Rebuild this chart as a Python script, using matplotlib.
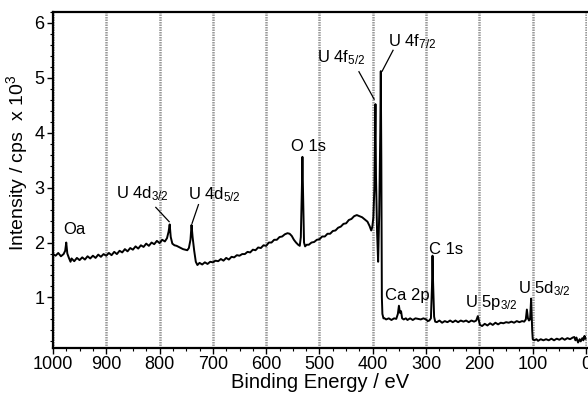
import matplotlib
matplotlib.use("Agg")
import matplotlib.pyplot as plt
from matplotlib.ticker import MultipleLocator

plt.rcParams['font.family'] = ['Liberation Sans', 'DejaVu Sans']
plt.rcParams['mathtext.fontset'] = 'custom'
plt.rcParams['mathtext.rm'] = 'Liberation Sans'
plt.rcParams['mathtext.it'] = 'Liberation Sans:italic'

# XPS survey spectrum, binding energy (eV) vs intensity (cps x 10^3)
binding_energy = [
    1000, 995, 990, 985, 980, 977, 975, 973, 970, 967, 965, 960, 955, 950, 945,
    940, 935, 930, 925, 920, 915, 910, 905, 900, 895, 890, 885, 880, 875, 870,
    865, 860, 855, 850, 845, 840, 835, 830, 825, 820, 815, 810, 805, 800, 795,
    790, 786, 783, 781, 779, 776, 772, 768, 764, 760, 756, 752, 748, 745, 742,
    740, 738, 735, 732, 729, 725, 720, 715, 710, 705, 700, 695, 690, 685, 680,
    675, 670, 665, 660, 655, 650, 645, 640, 635, 630, 625, 620, 615, 610, 605,
    600, 595, 590, 585, 580, 575, 570, 565, 560, 556, 552, 548, 544, 540, 537,
    535, 533, 532, 531, 529, 527, 524, 520, 515, 510, 505, 500, 495, 490, 485,
    480, 475, 470, 465, 460, 455, 450, 445, 440, 435, 430, 425, 420, 415, 410,
    406, 403, 401, 399, 397, 395, 394, 392, 390, 388, 386, 385, 384, 383, 382,
    380, 378, 375, 370, 365, 360, 356, 353, 351, 349, 347, 345, 342, 338, 335,
    330, 325, 320, 315, 310, 305, 300, 297, 294, 291, 289, 288, 287, 285, 283,
    280, 275, 270, 265, 260, 255, 250, 245, 240, 235, 230, 225, 220, 215, 210,
    206, 203, 201, 199, 195, 190, 185, 180, 175, 170, 165, 160, 155, 150, 145,
    140, 135, 130, 125, 120, 116, 113, 111, 109, 107, 105, 104, 103, 102, 101,
    100, 97, 93, 90, 85, 80, 75, 70, 65, 60, 55, 50, 45, 40, 35,
    30, 25, 22, 20, 18, 15, 12, 10, 7, 5, 3, 1,
]
intensity = [
    1.79, 1.76, 1.81, 1.75, 1.79, 1.85, 2.00, 1.80, 1.72, 1.65, 1.71, 1.66, 1.72, 1.68, 1.73,
    1.69, 1.75, 1.71, 1.76, 1.72, 1.78, 1.74, 1.79, 1.76, 1.81, 1.77, 1.83, 1.79, 1.85, 1.82,
    1.88, 1.84, 1.90, 1.87, 1.93, 1.89, 1.95, 1.92, 1.98, 1.94, 2.00, 1.97, 2.03, 1.99, 2.05,
    2.02, 2.08, 2.20, 2.33, 2.10, 1.98, 1.95, 1.94, 1.92, 1.90, 1.88, 1.87, 1.86, 1.90, 2.05,
    2.32, 2.10, 1.85, 1.65, 1.59, 1.63, 1.60, 1.64, 1.61, 1.65, 1.64, 1.67, 1.66, 1.70, 1.67,
    1.72, 1.69, 1.74, 1.73, 1.77, 1.76, 1.79, 1.79, 1.83, 1.82, 1.87, 1.86, 1.91, 1.90, 1.95,
    1.94, 2.00, 2.00, 2.05, 2.05, 2.10, 2.11, 2.15, 2.17, 2.16, 2.12, 2.05, 2.00, 1.96, 1.94,
    2.10, 3.00, 3.56, 3.00, 2.00, 1.93, 1.96, 1.96, 2.00, 2.01, 2.05, 2.06, 2.11, 2.11, 2.16,
    2.16, 2.21, 2.22, 2.27, 2.29, 2.34, 2.35, 2.41, 2.43, 2.48, 2.50, 2.48, 2.46, 2.42, 2.38,
    2.30, 2.22, 2.28, 2.45, 3.00, 4.52, 3.20, 2.20, 1.65, 2.50, 4.00, 5.12, 3.50, 1.00, 0.70,
    0.62, 0.62, 0.60, 0.62, 0.59, 0.62, 0.61, 0.70, 0.85, 0.72, 0.75, 0.62, 0.60, 0.62, 0.59,
    0.62, 0.59, 0.62, 0.61, 0.60, 0.62, 0.60, 0.57, 0.58, 0.62, 1.20, 1.76, 1.30, 0.65, 0.56,
    0.55, 0.58, 0.54, 0.57, 0.55, 0.58, 0.55, 0.58, 0.55, 0.58, 0.56, 0.58, 0.55, 0.58, 0.56,
    0.58, 0.66, 0.58, 0.50, 0.48, 0.52, 0.49, 0.53, 0.50, 0.54, 0.51, 0.54, 0.53, 0.55, 0.54,
    0.56, 0.54, 0.57, 0.55, 0.57, 0.56, 0.60, 0.78, 0.62, 0.58, 0.60, 0.80, 0.98, 0.70, 0.40,
    0.24, 0.22, 0.24, 0.21, 0.24, 0.22, 0.24, 0.22, 0.25, 0.22, 0.25, 0.23, 0.26, 0.23, 0.26,
    0.24, 0.27, 0.28, 0.22, 0.27, 0.18, 0.24, 0.20, 0.26, 0.22, 0.30, 0.25,
]

# peak labels: text, text position, optional leader line (start, end)
labels = [
    ("Oa", (981, 2.15), None),
    ("U 4d$_{3/2}$", (882, 2.81), ((807, 2.64), (782, 2.38))),
    ("U 4d$_{5/2}$", (746, 2.79), ((727, 2.69), (739, 2.35))),
    ("O 1s", (553, 3.67), None),
    ("U 4f$_{5/2}$", (505, 5.29), ((426, 5.11), (397.5, 4.61))),
    ("U 4f$_{7/2}$", (372, 5.58), ((362, 5.50), (382.5, 5.12))),
    ("Ca 2p", (377, 0.96), None),
    ("C 1s", (295, 1.80), None),
    ("U 5p$_{3/2}$", (227, 0.82), None),
    ("U 5d$_{3/2}$", (127, 1.08), None),
]

fig = plt.figure(figsize=(5.88, 3.95), dpi=100)
ax = fig.add_axes([0.090, 0.119, 0.9085, 0.851])

ax.plot(binding_energy, intensity, color='black', lw=1.4)

for text, pos, leader in labels:
    ax.text(pos[0], pos[1], text, fontsize=12, ha='left', va='baseline')
    if leader is not None:
        ax.plot([leader[0][0], leader[1][0]], [leader[0][1], leader[1][1]],
                color='black', lw=0.9)

ax.set_xlim(1000, -2)
ax.set_ylim(0.08, 6.2)
ax.xaxis.set_major_locator(MultipleLocator(100))
ax.xaxis.set_minor_locator(MultipleLocator(25))
ax.yaxis.set_major_locator(MultipleLocator(1))
ax.yaxis.set_minor_locator(MultipleLocator(0.2))
ax.set_yticks([1, 2, 3, 4, 5, 6])

ax.grid(axis='x', which='major', color='0.6', linestyle=(0, (0.6, 0.4)), lw=1.8)
ax.set_axisbelow(True)

ax.spines['right'].set_visible(False)
for s in ['left', 'bottom', 'top']:
    ax.spines[s].set_linewidth(1.6)

ax.tick_params(axis='both', which='major', direction='out', length=4, width=1,
               labelsize=13, pad=2)
ax.tick_params(axis='both', which='minor', direction='out', length=2, width=0.8)
ax.tick_params(axis='x', top=False)

ax.set_xlabel('Binding Energy / eV', fontsize=14.5, labelpad=0)
ax.set_ylabel('Intensity / cps  x 10$^{3}$', fontsize=14)
ax.yaxis.set_label_coords(-0.042, 0.55)

fig.savefig('out.png', dpi=100)
